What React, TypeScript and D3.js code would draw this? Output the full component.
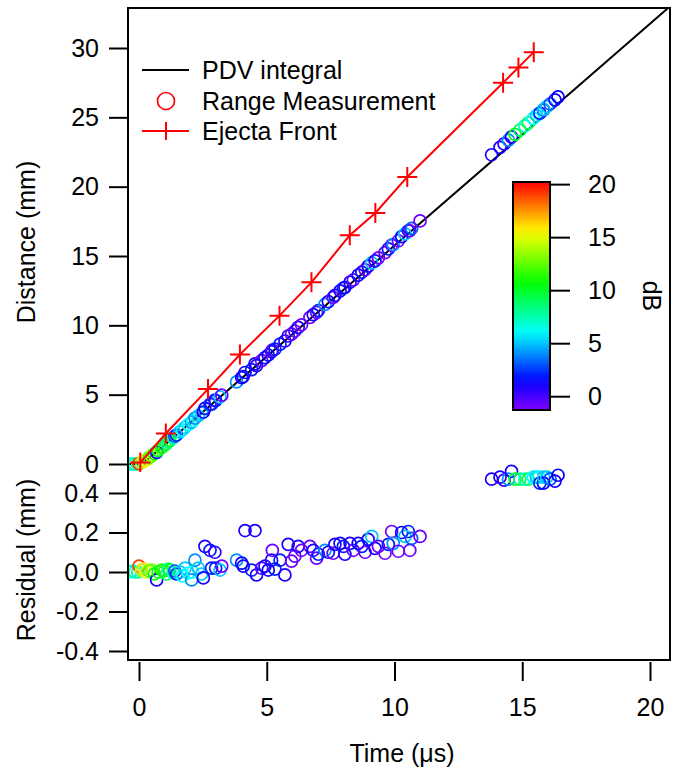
import React, { useEffect, useRef } from 'react';
import * as d3 from 'd3';

// PDV integral (black line)
const pdvTime = [-0.45, 0, 0.3, 0.6, 1, 2, 5, 10, 15, 20.8];
const pdvDistance = [0, 0, 0.3, 0.75, 1.35, 2.95, 7.75, 15.75, 23.75, 33.03];

// Ejecta front (red + markers)
const ejectaTime = [0.05, 1.05, 2.7, 3.95, 5.5, 6.75, 8.25, 9.25, 10.5, 14.25, 14.85, 15.45];
const ejectaDistance = [0.1, 2.2, 5.4, 7.9, 10.7, 13.1, 16.5, 18.1, 20.7, 27.5, 28.6, 29.7];

// Range measurement: time (us), distance (mm), residual (mm), signal (dB)
const rangeTime = [
  -0.35, -0.25, -0.16, -0.05, 0.0, 0.1, 0.2, 0.3, 0.4, 0.5, 0.6, 0.69, 0.75, 0.89, 1.0, 1.08, 1.15, 1.21, 1.34, 1.4,
  1.47, 1.6, 1.7, 1.8, 1.93, 2.06, 2.1, 2.19, 2.32, 2.45, 2.52, 2.58, 2.78, 2.84, 2.97, 3.0, 3.17, 3.24, 3.82, 4.02,
  4.08, 4.15, 4.41, 4.54, 4.6, 4.8, 4.93, 5.06, 5.19, 5.22, 5.32, 5.52, 5.71, 5.84, 5.97, 6.1, 6.23, 6.36, 6.69, 6.82,
  6.95, 7.02, 7.28, 7.41, 7.6, 7.67, 7.87, 8.0, 8.06, 8.26, 8.39, 8.58, 8.72, 8.85, 8.97, 9.11, 9.24, 9.37, 9.63, 9.76,
  9.89, 9.95, 10.15, 10.28, 10.41, 10.54, 10.6, 10.67, 11.0,
  13.8, 14.13, 14.29, 14.46, 14.58, 14.72, 14.91, 15.1, 15.24, 15.43, 15.56, 15.65, 15.69, 15.83, 15.84, 15.96, 16.09,
  16.28, 16.4,
];
const rangeDistance = [
  0, 0, 0, 0, 0.03, 0.11, 0.22, 0.3, 0.46, 0.61, 0.74, 0.84, 0.98, 1.2, 1.36, 1.47, 1.61, 1.7, 1.89, 2.0,
  2.09, 2.31, 2.45, 2.65, 2.84, 3.01, 3.11, 3.31, 3.48, 3.66, 3.75, 4.01, 4.31, 4.31, 4.6, 4.57, 4.83, 4.96, 5.92, 6.23,
  6.31, 6.6, 6.81, 7.22, 7.1, 7.45, 7.67, 7.86, 8.11, 8.21, 8.28, 8.64, 8.87, 9.23, 9.36, 9.59, 9.85, 10.04, 10.58, 10.77,
  10.94, 11.07, 11.51, 11.71, 12.01, 12.16, 12.49, 12.68, 12.74, 13.11, 13.28, 13.62, 13.83, 14.01, 14.27, 14.51, 14.65, 14.87, 15.25, 15.51,
  15.78, 15.82, 16.1, 16.4, 16.59, 16.82, 16.82, 16.99, 17.53,
  22.3, 22.84, 23.08, 23.36, 23.59, 23.77, 24.08, 24.38, 24.6, 24.92, 25.13, 25.27, 25.3, 25.53, 25.57, 25.77, 25.96,
  26.26, 26.48,
];
const rangeResidual = [
  0, 0.005, 0, 0, 0.03, 0.01, 0.015, 0, 0.005, 0.01, -0.01, -0.04, 0, 0.01, 0.005, -0.01, 0.015, 0.01, -0.005, 0.005,
  -0.01, 0, -0.02, 0.02, -0.005, -0.04, 0, 0.06, 0.02, -0.01, -0.03, 0.13, 0.11, 0.02, 0.1, 0.02, 0.01, 0.03, 0.06, 0.045,
  0.03, 0.21, 0.01, 0.21, -0.015, 0.02, 0.03, 0.01, 0.06, 0.11, 0.015, 0.06, -0.015, 0.14, 0.055, 0.08, 0.13, 0.11, 0.13, 0.11,
  0.07, 0.09, 0.11, 0.1, 0.095, 0.14, 0.145, 0.13, 0.09, 0.145, 0.11, 0.145, 0.13, 0.1, 0.165, 0.18, 0.12, 0.13, 0.095, 0.14,
  0.205, 0.145, 0.105, 0.2, 0.18, 0.205, 0.11, 0.17, 0.18,
  0.47, 0.48, 0.465, 0.47, 0.51, 0.47, 0.47, 0.47, 0.47, 0.48, 0.48, 0.48, 0.45, 0.45, 0.48, 0.48, 0.47,
  0.46, 0.49,
];
const rangeDB = [
  6, 7, 7, 8, 19, 14, 16, 15, 12, 13, 11, 1, 10, 11, 11, 9, 8, 10, 7, 3,
  2, 5, 6, 5, 6, 4, 6, 4, 5, 5, 1, 1, 2, 2, 0.5, 2, 5, -0.8, 4, 1.5,
  1, 1, 2, 1, 1, -0.8, 1, 1.5, 1, -0.8, 2, 2, 1, 1, -0.8, -0.8, 1, -0.8, -0.8, 1,
  -0.8, 2, 4, 1, -0.8, 1, 1, 2, 1, 1, -0.8, 1, 2, -0.8, 1, 5, 1, -0.8, -1, 2,
  -0.8, 4, -0.8, 1.5, 5, 2, -0.8, 3, -0.8,
  1, 1, 0.5, 4, 1, 10, 9, 7, 9, 6, 5, 6, 2, 1.5, 5, 5, 3,
  1, 1.5,
];

const xTicks = [0, 5, 10, 15, 20];
const distanceTicks = [0, 5, 10, 15, 20, 25, 30];
const residualTicks = [-0.4, -0.2, 0, 0.2, 0.4];
const dbTicks = [0, 5, 10, 15, 20];
const rainbowStops = [-1.3, 1.5, 6, 10.7, 15.5, 20.2];
const rainbowColors = ['#8000ff', '#0000ff', '#00ffff', '#00ff00', '#ffff00', '#ff0000'];
const legendLabels = ['PDV integral', 'Range Measurement', 'Ejecta Front'];

const W = 674;
const H = 779;
const FONT = '"Liberation Sans", Arial, sans-serif';
const FS = 25;

export default function App() {
  const ref = useRef<SVGSVGElement>(null);

  useEffect(() => {
    document.body.style.margin = '0';
    const svg = d3.select(ref.current);
    svg.selectAll('*').remove();

    const frame = { left: 128, right: 670, top: 8, bottom: 660 };
    const split = 472;

    const x = d3.scaleLinear().domain([0, 20]).range([139, 650]);
    const yDist = d3.scaleLinear().domain([0, 30]).range([464, 48]);
    const yRes = d3.scaleLinear().domain([-0.4, 0.4]).range([651, 493]);
    const yDB = d3.scaleLinear().domain([-1.3, 20.2]).range([410, 182]);
    const color = d3.scaleLinear<string>().domain(rainbowStops).range(rainbowColors).clamp(true);

    const defs = svg.append('defs');
    defs.append('clipPath').attr('id', 'clipTop').append('rect')
      .attr('x', frame.left).attr('y', frame.top)
      .attr('width', frame.right - frame.left).attr('height', split - frame.top);
    defs.append('clipPath').attr('id', 'clipRes').append('rect')
      .attr('x', frame.left).attr('y', frame.top)
      .attr('width', frame.right - frame.left).attr('height', frame.bottom - frame.top);
    const grad = defs.append('linearGradient').attr('id', 'cbGrad')
      .attr('x1', 0).attr('y1', 1).attr('x2', 0).attr('y2', 0);
    d3.range(0, 1.0001, 0.05).forEach(f => {
      grad.append('stop').attr('offset', f)
        .attr('stop-color', color(yDB.domain()[0] + f * (yDB.domain()[1] - yDB.domain()[0])));
    });

    const idx = d3.range(rangeTime.length);

    // top panel
    const top = svg.append('g').attr('clip-path', 'url(#clipTop)');
    const line = d3.line<number>().x(i => x(pdvTime[i])).y(i => yDist(pdvDistance[i]));
    top.append('path').attr('d', line(d3.range(pdvTime.length)))
      .attr('fill', 'none').attr('stroke', '#000').attr('stroke-width', 2);

    top.selectAll('.range').data(idx).enter().append('circle')
      .attr('cx', i => x(rangeTime[i])).attr('cy', i => yDist(rangeDistance[i]))
      .attr('r', 6).attr('fill', 'none').attr('stroke', i => color(rangeDB[i])).attr('stroke-width', 1.7);

    const ejLine = d3.line<number>().x(i => x(ejectaTime[i])).y(i => yDist(ejectaDistance[i]));
    const ejIdx = d3.range(ejectaTime.length);
    top.append('path').attr('d', ejLine(ejIdx))
      .attr('fill', 'none').attr('stroke', '#ff0000').attr('stroke-width', 2);
    top.selectAll('.ej').data(ejIdx).enter().append('path')
      .attr('d', i => {
        const cx = x(ejectaTime[i]);
        const cy = yDist(ejectaDistance[i]);
        return `M${cx - 10},${cy}H${cx + 10}M${cx},${cy - 10}V${cy + 10}`;
      })
      .attr('stroke', '#ff0000').attr('stroke-width', 2);

    // residual panel
    const res = svg.append('g').attr('clip-path', 'url(#clipRes)');
    res.selectAll('.res').data(idx).enter().append('circle')
      .attr('cx', i => x(rangeTime[i])).attr('cy', i => yRes(rangeResidual[i]))
      .attr('r', 6).attr('fill', 'none').attr('stroke', i => color(rangeDB[i])).attr('stroke-width', 1.7);

    // frame
    svg.append('rect')
      .attr('x', frame.left).attr('y', frame.top)
      .attr('width', frame.right - frame.left).attr('height', frame.bottom - frame.top)
      .attr('fill', 'none').attr('stroke', '#000').attr('stroke-width', 2);

    const styleAxis = (g: d3.Selection<SVGGElement, unknown, null, undefined>) => {
      g.select('.domain').remove();
      g.selectAll('line').attr('stroke', '#000').attr('stroke-width', 2);
      g.selectAll('text').attr('fill', '#000').attr('font-size', FS).attr('font-family', FONT);
    };

    svg.append('g').attr('transform', `translate(${frame.left},0)`)
      .call(d3.axisLeft(yDist).tickValues(distanceTicks).tickSize(19).tickPadding(10).tickFormat(d3.format('d')))
      .call(styleAxis);
    svg.append('g').attr('transform', `translate(${frame.left},0)`)
      .call(d3.axisLeft(yRes).tickValues(residualTicks).tickSize(19).tickPadding(10)
        .tickFormat(d => (+d).toFixed(1)))
      .call(styleAxis);
    svg.append('g').attr('transform', `translate(0,${frame.bottom + 2})`)
      .call(d3.axisBottom(x).tickValues(xTicks).tickSize(19).tickPadding(17).tickFormat(d3.format('d')))
      .call(styleAxis);

    // axis titles
    const title = (t: string, tx: number, ty: number, rot: number) =>
      svg.append('text').attr('transform', `translate(${tx},${ty}) rotate(${rot})`)
        .attr('text-anchor', 'middle').attr('font-size', FS).attr('font-family', FONT).attr('fill', '#000').text(t);
    title('Distance (mm)', 35, 242, -90);
    title('Residual (mm)', 35, 560, -90);
    title('Time (\u03bcs)', 402, 762, 0);

    // legend
    const lg = svg.append('g');
    const rowY = [70, 101, 131];
    lg.append('line').attr('x1', 142).attr('x2', 189).attr('y1', rowY[0]).attr('y2', rowY[0])
      .attr('stroke', '#000').attr('stroke-width', 2);
    lg.append('circle').attr('cx', 166).attr('cy', rowY[1]).attr('r', 8.5)
      .attr('fill', 'none').attr('stroke', '#ff0000').attr('stroke-width', 1.7);
    lg.append('path').attr('d', `M142,${rowY[2]}H189M166,${rowY[2] - 9}V${rowY[2] + 9}`)
      .attr('stroke', '#ff0000').attr('stroke-width', 2);
    legendLabels.forEach((l, i) => {
      lg.append('text').attr('x', 202).attr('y', rowY[i]).attr('dy', '0.35em')
        .attr('font-size', FS).attr('font-family', FONT).attr('fill', '#000').text(l);
    });

    // colour bar
    const cb = svg.append('g');
    cb.append('rect').attr('x', 513).attr('y', yDB(20.2)).attr('width', 37)
      .attr('height', yDB(-1.3) - yDB(20.2))
      .attr('fill', 'url(#cbGrad)').attr('stroke', '#000').attr('stroke-width', 2);
    svg.append('g').attr('transform', 'translate(550,0)')
      .call(d3.axisRight(yDB).tickValues(dbTicks).tickSize(20).tickPadding(18).tickFormat(d3.format('d')))
      .call(styleAxis);
    title('dB', 643, 296, 90);
  }, []);

  return <svg ref={ref} width={W} height={H} style={{ display: 'block', background: '#fff' }} />;
}
